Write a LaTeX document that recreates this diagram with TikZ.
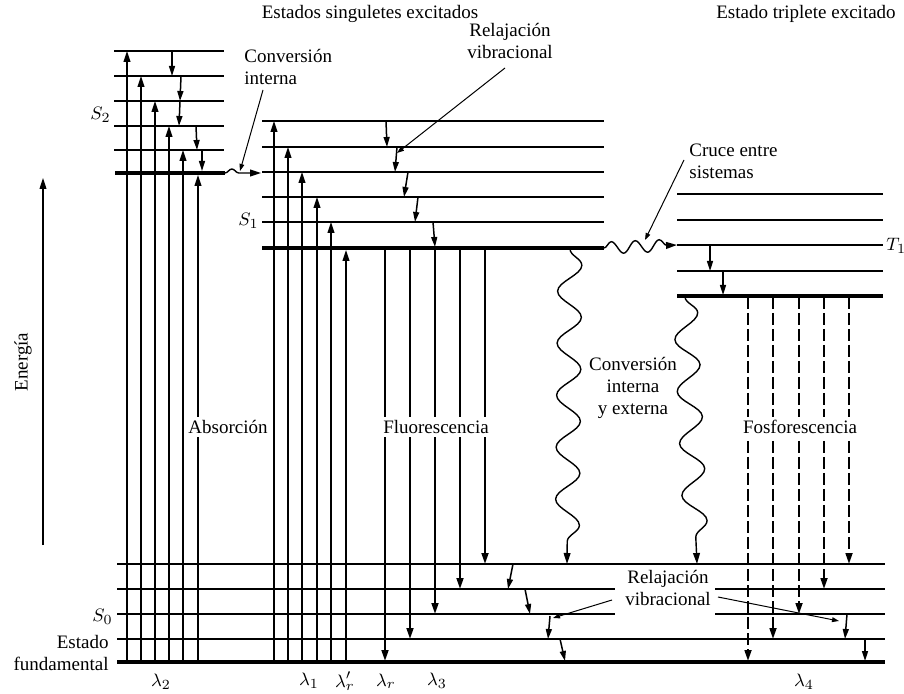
\documentclass[tikz,border=0pt]{standalone}
\usepackage{fontspec}
\setmainfont{Liberation Serif}
\usetikzlibrary{arrows.meta,decorations.pathmorphing}

\begin{document}
\begin{tikzpicture}[>={Triangle[length=5.5pt,width=3.4pt]},x=0.5pt,y=-0.5pt,font=\fontsize{9.5}{11}\selectfont]
\tikzset{
 lvl/.style={line width=0.75pt},
 base/.style={line width=2.2pt},
 up/.style={->,line width=0.85pt},
 down/.style={->,line width=1.1pt},
 relax/.style={->,line width=0.75pt,>={Triangle[length=5pt,width=3pt]}},
 phos/.style={->,line width=1.1pt,dash pattern=on 6pt off 2pt},
 wave/.style={->,line width=0.7pt,decorate,decoration={snake,segment length=26pt,amplitude=6pt,post length=5pt}},
 ptr/.style={->,line width=0.5pt,>={Triangle[length=3.5pt,width=2.4pt]}},
 lbl/.style={align=center,inner sep=1pt},
 cut/.style={fill=white,inner sep=1.5pt}
}
\useasboundingbox (0,0) rectangle (904,694);
\foreach \y in {51,76,101,126,150} \draw[lvl] (114,\y) -- (224,\y);
\draw[base] (115,173) -- (225,173);
\foreach \y in {121,147,172,197,222} \draw[lvl] (262,\y) -- (604,\y);
\draw[base] (262,248) -- (604,248);
\foreach \y in {194,220,245,271} \draw[lvl] (677,\y) -- (883,\y);
\draw[base] (677,296) -- (883,296);
\foreach \y in {564,639} \draw[lvl] (117,\y) -- (885,\y);
\foreach \y in {589,614} {\draw[lvl] (117,\y) -- (615,\y); \draw[lvl] (715,\y) -- (885,\y);}
\draw[base] (117,662) -- (885,662);

\foreach \x/\y in {127/51,141/76,155/101,169/126,183/150,198/175,274/121,288/147,302/172,317/197,331/222,346/250}
  \draw[up] (\x,661) -- (\x,\y);
\foreach \x/\y in {385/661,410/639,435/614,460/589,485/564}
  \draw[down] (\x,249) -- (\x,\y);
\foreach \x/\y in {748/661,773/639,799/614,824/589,849/564}
  \draw[phos] (\x,297) -- (\x,\y);

\foreach \xa/\ya/\xb/\yb in {172/51/172/76,181/76/180/101,180/101/179/126,196/126/197/150,202/150/202/171,
  386/121/387/147,397/147/395/172,408/172/404/197,418/197/415/222,433/222/435/247,
  710/245/710/271,723/271/723/295,
  513/564/508/589,525/589/530/614,550/616/548/639,560/639/565/661,847/614/845/639,865/639/865/661}
  \draw[relax] (\xa,\ya) -- (\xb,\yb);

\draw[wave] (570,249) -- (567,564);
\draw[wave] (685,297) -- (697,564);
\draw[->,line width=0.7pt,decorate,decoration={snake,segment length=11pt,amplitude=2pt,post length=6pt}] (225,173) -- (261,173);
\draw[->,line width=0.7pt,decorate,decoration={snake,segment length=12pt,amplitude=3pt,post length=5pt}] (604,248) -- (677,245);

\node (tsing) at (370,14) {Estados singuletes excitados};
\node (ttrip) at (806,14) {Estado triplete excitado};
\node[lbl,align=left,anchor=west] (cint) at (242,67) {Conversión\\interna};
\node[lbl] (rvs) at (510,41) {Relajación\\vibracional};
\node[lbl,align=left,anchor=west] (cruce) at (687,161) {Cruce entre\\sistemas};
\node[lbl] (cie) at (633,388) {Conversión\\interna\\y externa};
\node[lbl] (rvi) at (668,588) {Relajación\\vibracional};
\node[cut] (abs) at (228,427) {Absorción};
\node[cut] (fluo) at (436,427) {Fluorescencia};
\node[cut] (fosf) at (800,427) {Fosforescencia};
\node[rotate=90] (en) at (23,362) {Energía};
\draw[->,line width=0.6pt] (43,545) -- (43,178);

\draw[ptr] (263,90) -- (240,171);
\draw[ptr] (505,68) -- (397,153);
\draw[ptr] (684,160) -- (645,240);
\draw[ptr] (612,600) -- (553,618);
\draw[ptr] (718,597) -- (839,621);

\node[anchor=east,inner sep=1pt] (s2) at (113,115) {$S_2$};
\node[anchor=east,inner sep=1pt] (s1) at (261,221) {$S_1$};
\node[anchor=east,inner sep=1pt] (s0) at (115,617) {$S_0$};
\node[anchor=west,inner sep=1pt] (t1) at (884,246) {$T_1$};
\node[lbl,align=right,anchor=east] (gs) at (111,653) {Estado\\fundamental};
\node (l2) at (161,682) {$\lambda_2$};
\node (l1) at (309,681) {$\lambda_1$};
\node (lrr) at (345,681) {$\lambda'_r$};
\node (lr) at (386,681) {$\lambda_r$};
\node (l3) at (437,681) {$\lambda_3$};
\node (l4) at (804,682) {$\lambda_4$};
\end{tikzpicture}
\end{document}
